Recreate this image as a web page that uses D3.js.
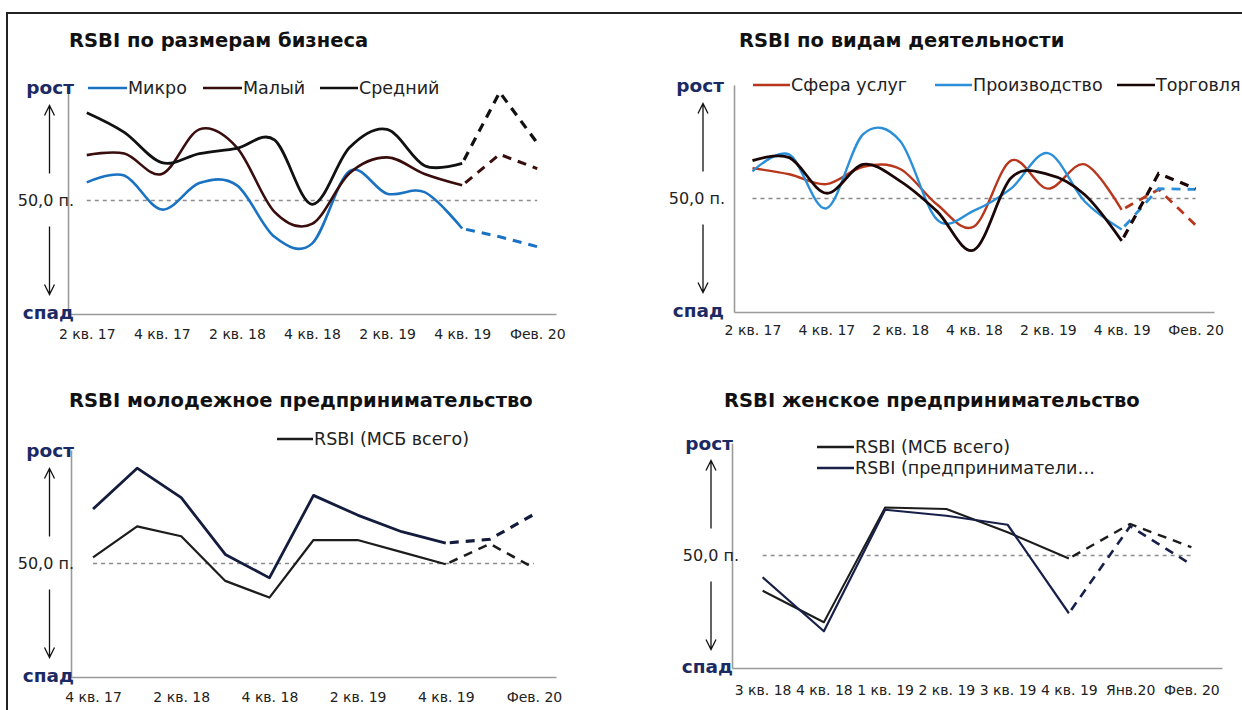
<!DOCTYPE html>
<html>
<head>
<meta charset="utf-8">
<script src="https://cdn.jsdelivr.net/npm/d3@7"></script>
<style>
  body { margin: 0; background: #fff; }
  svg text { font-family: "DejaVu Sans", sans-serif; fill: #222; }
  .title { font-weight: bold; font-size: 19.5px; fill: #111; }
  .dir { font-weight: bold; font-size: 18.5px; fill: #1b2a63; }
  .mid { font-size: 16px; }
  .leg { font-size: 17.5px; }
  .tick text { font-size: 14px; fill: #222; }
</style>
</head>
<body>
<div id="chart"></div>
<script>
var svgWidth = 1242;
var svgHeight = 710;

// categories and tick labels
var quarterCats = ["2 кв. 17", "3 кв. 17", "4 кв. 17", "1 кв. 18", "2 кв. 18", "3 кв. 18", "4 кв. 18",
  "1 кв. 19", "2 кв. 19", "3 кв. 19", "4 кв. 19", "Янв. 20", "Фев. 20"];
var quarterTicks = ["2 кв. 17", "4 кв. 17", "2 кв. 18", "4 кв. 18", "2 кв. 19", "4 кв. 19", "Фев. 20"];

var youthCats = ["4 кв. 17", "1 кв. 18", "2 кв. 18", "3 кв. 18", "4 кв. 18", "1 кв. 19", "2 кв. 19",
  "3 кв. 19", "4 кв. 19", "Янв. 20", "Фев. 20"];
var youthTicks = ["4 кв. 17", "2 кв. 18", "4 кв. 18", "2 кв. 19", "4 кв. 19", "Фев. 20"];

var womenCats = ["3 кв. 18", "4 кв. 18", "1 кв. 19", "2 кв. 19", "3 кв. 19", "4 кв. 19", "Янв.20", "Фев. 20"];

// series values (index points, 50 = neutral)
var microVals = [52.4, 53.3, 48.8, 52.3, 52.0, 45.2, 44.3, 53.9, 50.9, 51.1, 46.3, 45.2, 43.9];
var smallVals = [56.0, 56.2, 53.5, 59.4, 57.0, 48.5, 46.9, 53.6, 55.7, 53.5, 52.0, 56.1, 54.2];
var mediumVals = [61.6, 59.0, 55.0, 56.2, 56.9, 58.0, 49.5, 57.0, 59.4, 54.6, 54.9, 64.3, 57.6];

var servicesVals = [54.0, 53.2, 51.9, 54.2, 53.9, 49.2, 46.3, 55.0, 51.3, 54.5, 48.5, 51.2, 46.5];
var productionVals = [53.6, 55.8, 48.7, 58.5, 57.6, 47.2, 48.4, 51.3, 56.0, 49.6, 45.9, 51.3, 51.2];
var tradeVals = [55.0, 55.4, 50.7, 54.5, 52.3, 48.3, 43.2, 52.7, 53.2, 50.5, 44.4, 53.3, 51.3];

var youthVals = [57.2, 62.6, 58.7, 51.2, 48.1, 59.0, 56.4, 54.2, 52.7, 53.2, 56.5];
var youthTotalVals = [50.8, 54.9, 53.6, 47.7, 45.5, 53.1, 53.1, 51.5, 49.9, 52.6, 49.4];

var womenTotalVals = [45.3, 41.1, 56.4, 56.2, 53.1, 49.6, 54.2, 51.1];
var womenVals = [47.1, 39.9, 56.1, 55.3, 54.1, 42.3, 53.9, 48.8];

var svg = d3.select("#chart")
  .append("svg")
  .attr("width", svgWidth)
  .attr("height", svgHeight);

// screenshot frame
svg.append("path")
  .attr("d", "M7,710 V13 H1242")
  .attr("fill", "none")
  .attr("stroke", "#222")
  .attr("stroke-width", 2);

var panels = [
  {
    title: "RSBI по размерам бизнеса", titleX: 69, titleY: 40,
    left: 68, right: 556, top: 87, bottom: 314,
    dirEnd: 74, midEnd: 74, arrowX: 49.5, tickPad: 15,
    cats: quarterCats, ticks: quarterTicks, smooth: true,
    series: [
      { name: "Микро", values: microVals, color: "#1a72c2", width: 2.6, leg: [88, 127, 88] },
      { name: "Малый", values: smallVals, color: "#3a0d0d", width: 2.6, leg: [203, 242, 88] },
      { name: "Средний", values: mediumVals, color: "#111", width: 2.8, leg: [320, 358, 88] }
    ]
  },
  {
    title: "RSBI по видам деятельности", titleX: 739, titleY: 40,
    left: 734, right: 1214, top: 85, bottom: 312,
    dirEnd: 724, midEnd: 725, arrowX: 703, tickPad: 13,
    cats: quarterCats, ticks: quarterTicks, smooth: true,
    series: [
      { name: "Сфера услуг", values: servicesVals, color: "#b8361c", width: 2.4, leg: [753, 790, 85] },
      { name: "Производство", values: productionVals, color: "#2a8fd8", width: 2.4, leg: [935, 972, 85] },
      { name: "Торговля", values: tradeVals, color: "#1a0606", width: 2.8, leg: [1117, 1155, 85] }
    ]
  },
  {
    title: "RSBI молодежное предпринимательство", titleX: 69, titleY: 400,
    left: 71, right: 556, top: 450, bottom: 677,
    dirEnd: 74, midEnd: 74, arrowX: 49.5, tickPad: 15,
    cats: youthCats, ticks: youthTicks, smooth: false,
    series: [
      { name: "RSBI (МСБ всего)", values: youthTotalVals, color: "#1c1c1c", width: 2.2, leg: [277, 313, 439] },
      { name: null, values: youthVals, color: "#141c3e", width: 2.8 }
    ]
  },
  {
    title: "RSBI женское предпринимательство", titleX: 724, titleY: 400,
    left: 732, right: 1222, top: 443, bottom: 668,
    dirEnd: 733, midEnd: 739, arrowX: 711, tickPad: 17,
    cats: womenCats, ticks: womenCats, smooth: false,
    series: [
      { name: "RSBI (МСБ всего)", values: womenTotalVals, color: "#1c1c1c", width: 2.0, leg: [817, 854, 447] },
      { name: "RSBI (предприниматели…", values: womenVals, color: "#18204a", width: 2.2, leg: [817, 854, 468] }
    ]
  }
];

panels.forEach(function(p) {
  var g = svg.append("g");

  var xScale = d3.scalePoint()
    .domain(p.cats)
    .range([p.left, p.right])
    .padding(0.5);

  var yScale = d3.scaleLinear()
    .domain([35, 65])
    .range([p.bottom, p.top]);

  // title
  g.append("text")
    .attr("class", "title")
    .attr("x", p.titleX)
    .attr("y", p.titleY)
    .attr("dy", "0.35em")
    .text(p.title);

  // x axis
  var xAxis = d3.axisBottom(xScale)
    .tickValues(p.ticks)
    .tickSize(0)
    .tickSizeOuter(0)
    .tickPadding(p.tickPad);

  var xg = g.append("g")
    .attr("transform", `translate(0, ${p.bottom})`)
    .call(xAxis);
  xg.select(".domain").attr("stroke", "#9a9a9a").attr("stroke-width", 1.6);
  xg.selectAll(".tick text").attr("font-family", null).attr("font-size", null);

  // y axis (line only)
  var yAxis = d3.axisLeft(yScale).tickValues([]).tickSizeOuter(0);
  var yg = g.append("g")
    .attr("transform", `translate(${p.left}, 0)`)
    .call(yAxis);
  yg.select(".domain").attr("stroke", "#9a9a9a").attr("stroke-width", 1.6);

  // 50 line
  var first = xScale(p.cats[0]);
  var last = xScale(p.cats[p.cats.length - 1]);
  g.append("line")
    .attr("x1", first).attr("x2", last)
    .attr("y1", yScale(50)).attr("y2", yScale(50))
    .attr("stroke", "#8c8c8c")
    .attr("stroke-width", 1.5)
    .attr("stroke-dasharray", "4,4");

  g.append("text")
    .attr("class", "mid")
    .attr("x", p.midEnd)
    .attr("y", yScale(50))
    .attr("dy", "0.35em")
    .attr("text-anchor", "end")
    .text("50,0 п.");

  g.append("text")
    .attr("class", "dir")
    .attr("x", p.dirEnd)
    .attr("y", p.top + 1)
    .attr("dy", "0.3em")
    .attr("text-anchor", "end")
    .text("рост");

  g.append("text")
    .attr("class", "dir")
    .attr("x", p.dirEnd)
    .attr("y", p.bottom - 1)
    .attr("dy", "0.3em")
    .attr("text-anchor", "end")
    .text("спад");

  // up / down arrows
  var y50 = yScale(50);
  var ax = p.arrowX;
  g.append("path")
    .attr("d", `M${ax},${y50 - 27} V${y50 - 95} M${ax - 5},${y50 - 85} L${ax},${y50 - 95} L${ax + 5},${y50 - 85}`)
    .attr("fill", "none").attr("stroke", "#111").attr("stroke-width", 1.3);
  g.append("path")
    .attr("d", `M${ax},${y50 + 26} V${y50 + 94} M${ax - 5},${y50 + 84} L${ax},${y50 + 94} L${ax + 5},${y50 + 84}`)
    .attr("fill", "none").attr("stroke", "#111").attr("stroke-width", 1.3);

  // lines: actual part solid, forecast part dashed
  var split = p.cats.indexOf("4 кв. 19");
  var solidLine = d3.line()
    .x(d => xScale(d.cat))
    .y(d => yScale(d.value))
    .curve(p.smooth ? d3.curveCardinal : d3.curveLinear);
  var dashLine = d3.line()
    .x(d => xScale(d.cat))
    .y(d => yScale(d.value));

  p.series.forEach(function(s) {
    var pts = s.values.map((v, i) => ({ cat: p.cats[i], value: v }));
    g.append("path")
      .attr("d", solidLine(pts.slice(0, split + 1)))
      .attr("fill", "none")
      .attr("stroke", s.color)
      .attr("stroke-width", s.width)
      .attr("stroke-linejoin", "round");
    g.append("path")
      .attr("d", dashLine(pts.slice(split)))
      .attr("fill", "none")
      .attr("stroke", s.color)
      .attr("stroke-width", s.width + 0.4)
      .attr("stroke-dasharray", "9,7")
      .attr("stroke-dashoffset", -4);

    if (s.name) {
      g.append("line")
        .attr("x1", s.leg[0]).attr("x2", s.leg[1])
        .attr("y1", s.leg[2]).attr("y2", s.leg[2])
        .attr("stroke", s.color)
        .attr("stroke-width", 2.6);
      g.append("text")
        .attr("class", "leg")
        .attr("x", s.leg[1] + 1)
        .attr("y", s.leg[2])
        .attr("dy", "0.35em")
        .text(s.name);
    }
  });
});
</script>
</body>
</html>
